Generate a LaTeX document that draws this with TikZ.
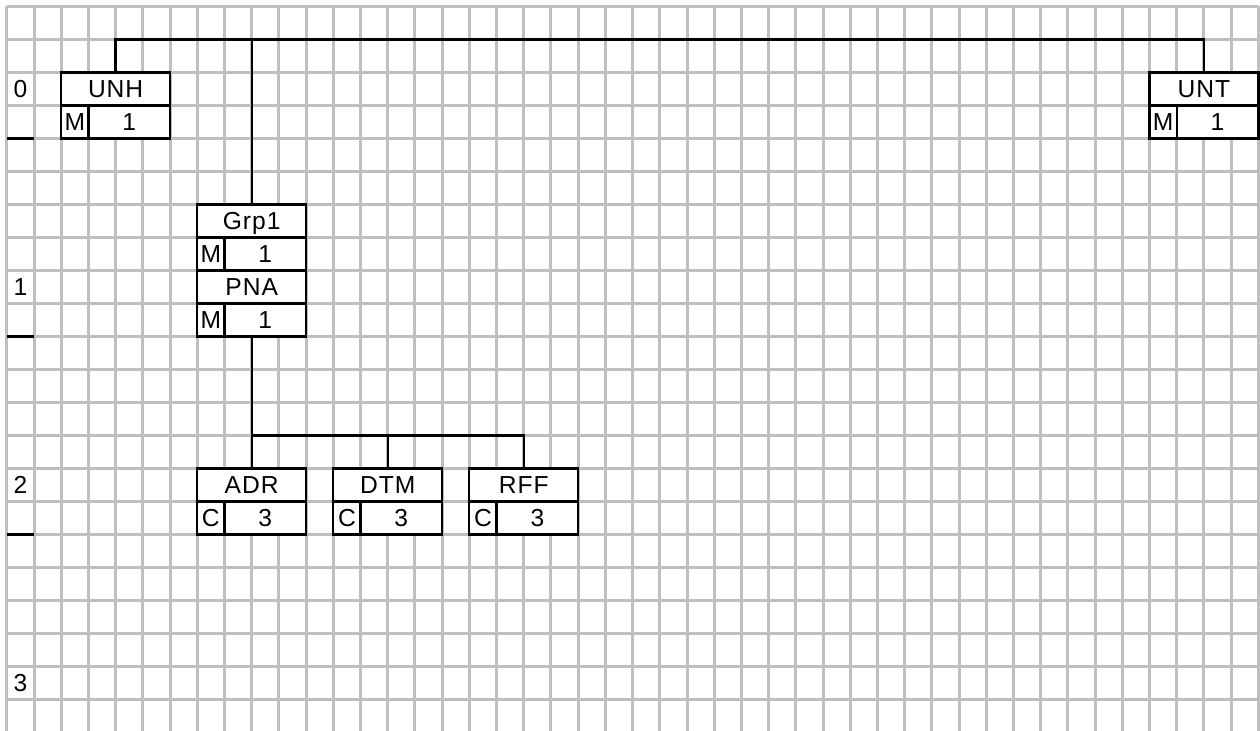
\documentclass[tikz,border=0pt]{standalone}
\usepackage{fontspec}
\setmainfont[LetterSpace=4]{Liberation Sans}

\tikzset{
  gridline/.style={draw=black!25, line width=1.7pt},
  cell/.style={draw, fill=white, line width=1.3pt, rectangle, inner sep=0pt, outer sep=0pt,
               anchor=north west, minimum height=0.66cm,
               text height=9.8pt, text depth=0pt,
               font=\fontsize{14}{16}\selectfont},
  namecell/.style={cell, minimum width=2.1768cm},
  flagcell/.style={cell, minimum width=0.5442cm},
  cntcell/.style={cell, minimum width=1.6326cm},
  lvl/.style={inner sep=0pt, text height=9.8pt, text depth=0pt,
              font=\fontsize{14}{16}\selectfont},
  link/.style={line width=1.3pt},
}

\begin{document}
\begin{tikzpicture}[x=0.5442cm, y=-0.66cm]
    % 1. 画布范围与背景网格 (列宽 x 行高)
    \useasboundingbox (-0.25,-0.197) rectangle (46.06,21.95);
    \begin{scope}
        \clip (-0.25,-0.197) rectangle (46.06,21.95);
        \foreach \c in {0,...,46}
            \draw[gridline] (\c,0) -- (\c,22.5);
        \foreach \r in {0,...,21}
            \draw[gridline] (0,\r) -- (46,\r);
    \end{scope}

    % 2. 左侧层级编号与分隔短线
    \node[lvl] (lvl0) at (0.5,2.5) {0};
    \node[lvl] (lvl1) at (0.5,8.5) {1};
    \node[lvl] (lvl2) at (0.5,14.5) {2};
    \node[lvl] (lvl3) at (0.5,20.5) {3};
    \foreach \r in {4,10,16}
        \draw[link] (0,\r) -- (1,\r);

    % 3. 第 0 层: UNH 与 UNT
    \node[namecell] (unh) at (2,2) {UNH};
    \node[flagcell] (unhM) at (2,3) {M};
    \node[cntcell] (unhN) at (3,3) {1};

    \node[namecell] (unt) at (42,2) {UNT};
    \node[flagcell] (untM) at (42,3) {M};
    \node[cntcell] (untN) at (43,3) {1};

    % 4. 第 1 层: 组 Grp1 及其触发段 PNA
    \node[namecell] (grp) at (7,6) {Grp1};
    \node[flagcell] (grpM) at (7,7) {M};
    \node[cntcell] (grpN) at (8,7) {1};
    \node[namecell] (pna) at (7,8) {PNA};
    \node[flagcell] (pnaM) at (7,9) {M};
    \node[cntcell] (pnaN) at (8,9) {1};

    % 5. 第 2 层: ADR, DTM, RFF
    \node[namecell] (adr) at (7,14) {ADR};
    \node[flagcell] (adrC) at (7,15) {C};
    \node[cntcell] (adrN) at (8,15) {3};

    \node[namecell] (dtm) at (12,14) {DTM};
    \node[flagcell] (dtmC) at (12,15) {C};
    \node[cntcell] (dtmN) at (13,15) {3};

    \node[namecell] (rff) at (17,14) {RFF};
    \node[flagcell] (rffC) at (17,15) {C};
    \node[cntcell] (rffN) at (18,15) {3};

    % 6. 连接线
    \coordinate (rail) at (0,1);
    \coordinate (fork) at (0,13);
    \draw[link] (unh.north) -- (unh.north |- rail) -- (unt.north |- rail) -- (unt.north);
    \draw[link] (grp.north) -- (grp.north |- rail);
    \draw[link] (pna.south |- pnaN.south) -- (pna.south |- fork) -- (rff.north |- fork) -- (rff.north);
    \draw[link] (pna.south |- fork) -- (adr.north);
    \draw[link] (dtm.north |- fork) -- (dtm.north);

\end{tikzpicture}
\end{document}
